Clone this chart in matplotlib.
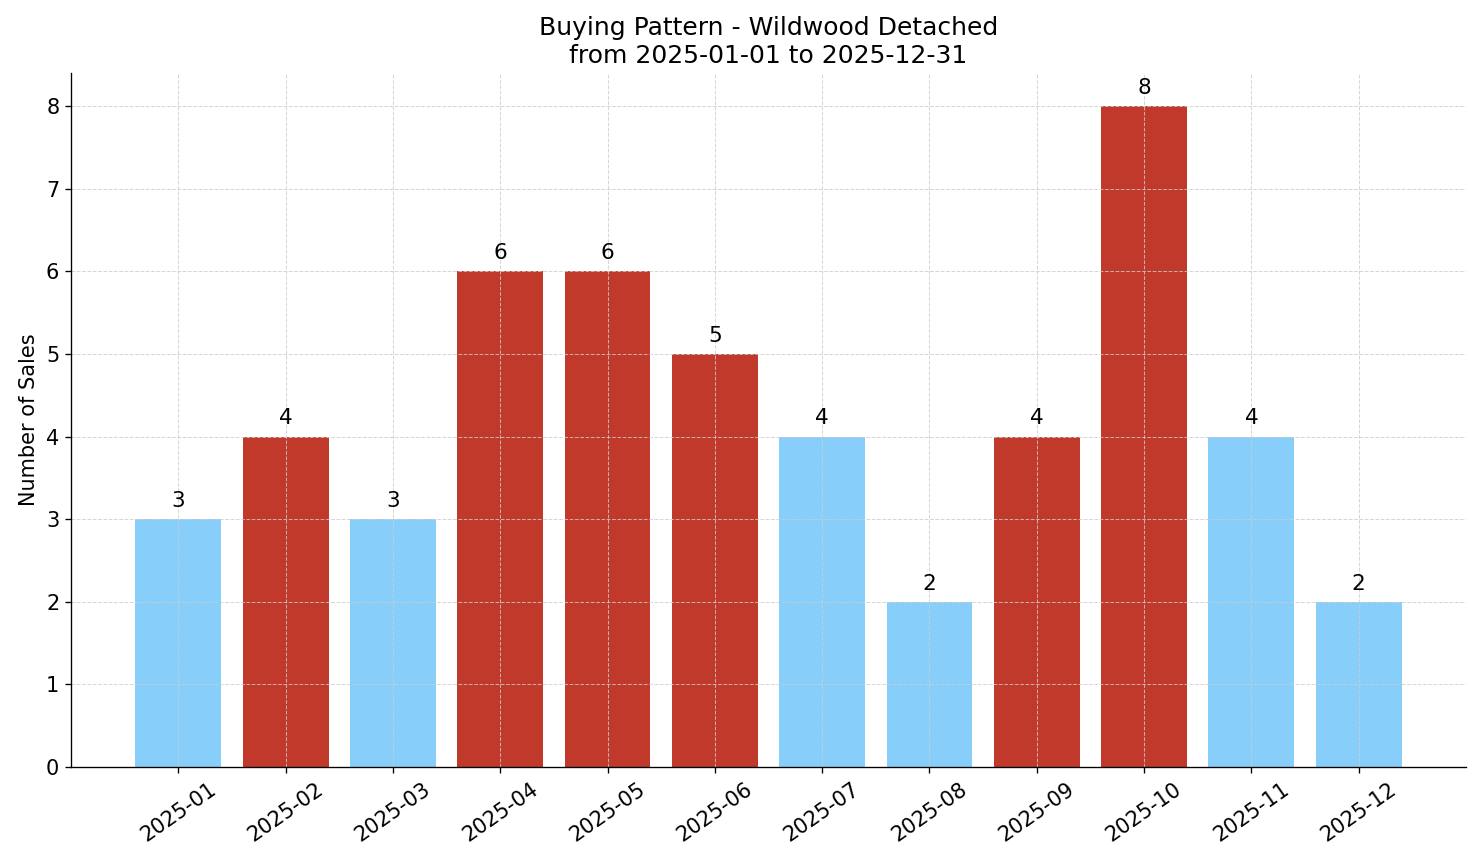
import matplotlib
matplotlib.use("Agg")
import matplotlib.pyplot as plt

months = ["2025-01", "2025-02", "2025-03", "2025-04", "2025-05", "2025-06",
          "2025-07", "2025-08", "2025-09", "2025-10", "2025-11", "2025-12"]
sales = [3, 4, 3, 6, 6, 5, 4, 2, 4, 8, 4, 2]
bar_colors = ["#87CEFA", "#C0392B", "#87CEFA", "#C0392B", "#C0392B", "#C0392B",
              "#87CEFA", "#87CEFA", "#C0392B", "#C0392B", "#87CEFA", "#87CEFA"]

W, H, DPI = 1481, 863, 120
fig = plt.figure(figsize=(W / DPI, H / DPI), dpi=DPI)
ax = fig.add_axes([71/W, 1 - 767/H, (1466-71)/W, (767-73)/H])
x = list(range(len(months)))
ax.bar(x, sales, color=bar_colors, width=0.8)
for xi, v in zip(x, sales):
    ax.text(xi, v + 0.1, str(v), ha="center", va="bottom", fontsize=13)
ax.set_xticks(x)
ax.set_xticklabels(months, rotation=35, fontsize=12.5)
ax.tick_params(axis="both", labelsize=12.5)
ax.set_xlim(-1, 12)
ax.set_ylim(0, 8.4)
ax.set_ylabel("Number of Sales", fontsize=12.5)
ax.set_title("Buying Pattern - Wildwood Detached\nfrom 2025-01-01 to 2025-12-31", fontsize=15)
ax.grid(True, linestyle="--", color="#cccccc", alpha=0.8, linewidth=0.6)
ax.spines["top"].set_visible(False)
ax.spines["right"].set_visible(False)
fig.savefig("out.png", dpi=DPI)
